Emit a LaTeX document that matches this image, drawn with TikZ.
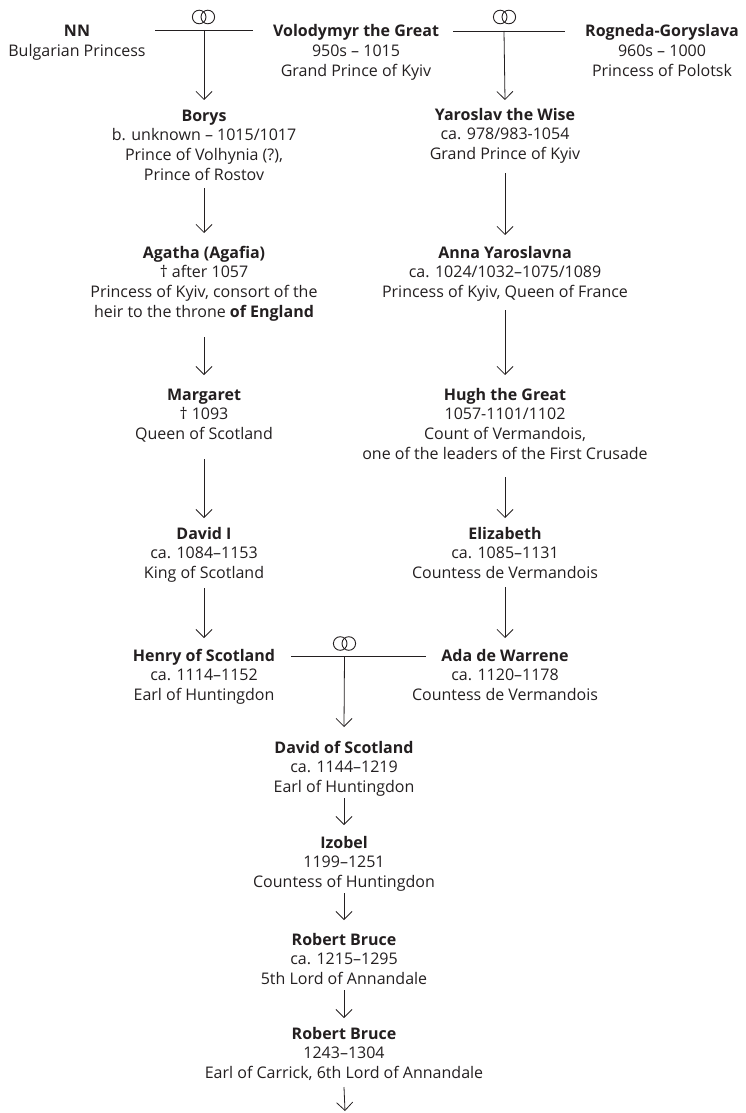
\documentclass[tikz,border=0pt]{standalone}
\usepackage{fontspec}
\setmainfont{Open Sans}
\usetikzlibrary{arrows.meta}
\definecolor{ink}{HTML}{231F20}
\tikzset{
  person/.style={align=center, inner sep=0pt, anchor=base, text=ink,
    font=\fontsize{16}{19.8}\selectfont},
  link/.style={draw=ink, line width=0.8pt},
  arr/.style={draw=ink, line width=0.8pt, -{Straight Barb[length=8pt,width=16pt]}},
  ringsym/.style={draw=ink, line width=0.9pt}
}
\newcommand{\rings}[2]{%
  \draw[ringsym] (#1-4.3,#2) circle[radius=6.8pt];
  \draw[ringsym] (#1+4.3,#2) circle[radius=6.8pt];}
\begin{document}
\begin{tikzpicture}[x=1pt,y=-1pt]
\useasboundingbox (0,0) rectangle (746,1113);
% people (anchor = baseline of the last line)
\node[person] (nn) at (77,56.8) {\textbf{NN}\\Bulgarian Princess};
\node[person] (volod) at (356,76.6) {\textbf{Volodymyr the Great}\\950s – 1015\\Grand Prince of Kyiv};
\node[person] (rogn) at (662,76.6) {\textbf{Rogneda-Goryslava}\\960s – 1000\\Princess of Polotsk};
\node[person] (borys) at (204,180.4) {\textbf{Borys}\\b. unknown – 1015/1017\\Prince of Volhynia (?),\\Prince of Rostov};
\node[person] (yaro) at (505,159.6) {\textbf{Yaroslav the Wise}\\ca. 978/983-1054\\Grand Prince of Kyiv};
\node[person] (agatha) at (204,317.4) {\textbf{Agatha (Agafia)}\\† after 1057\\Princess of Kyiv, consort of the\\heir to the throne \textbf{of England}};
\node[person] (anna) at (505,297.6) {\textbf{Anna Yaroslavna}\\ca. 1024/1032–1075/1089\\Princess of Kyiv, Queen of France};
\node[person] (marg) at (204,439.6) {\textbf{Margaret}\\† 1093\\Queen of Scotland};
\node[person] (hugh) at (505,459.4) {\textbf{Hugh the Great}\\1057-1101/1102\\Count of Vermandois,\\one of the leaders of the First Crusade};
\node[person] (david) at (204,578.6) {\textbf{David I}\\ca. 1084–1153\\King of Scotland};
\node[person] (eliz) at (505,578.6) {\textbf{Elizabeth}\\ca. 1085–1131\\Countess de Vermandois};
\node[person] (henry) at (204,700.6) {\textbf{Henry of Scotland}\\ca. 1114–1152\\Earl of Huntingdon};
\node[person] (ada) at (505,700.6) {\textbf{Ada de Warrene}\\ca. 1120–1178\\Countess de Vermandois};
\node[person] (davids) at (344,792.6) {\textbf{David of Scotland}\\ca. 1144–1219\\Earl of Huntingdon};
\node[person] (izobel) at (344,887.6) {\textbf{Izobel}\\1199–1251\\Countess of Huntingdon};
\node[person] (rb1) at (344,984.6) {\textbf{Robert Bruce}\\ca. 1215–1295\\5th Lord of Annandale};
\node[person] (rb2) at (344,1078.6) {\textbf{Robert Bruce}\\1243–1304\\Earl of Carrick, 6th Lord of Annandale};
% marriages
\coordinate (mAl) at (155,30); \coordinate (mAr) at (253,30); \coordinate (mA) at (204,30);
\coordinate (mBl) at (453,31); \coordinate (mBr) at (565,31); \coordinate (mB) at (504,31);
\coordinate (mCl) at (291,656); \coordinate (mCr) at (426,656); \coordinate (mC) at (344.5,656);
\coordinate (out) at (345,1111);
\draw[link] (mAl) -- (mAr);
\draw[link] (mBl) -- (mBr);
\draw[link] (mCl) -- (mCr);
\rings{203.5}{17}
\rings{504.5}{17}
\rings{344.5}{643.5}
% descent
\draw[arr] (mA) -- (borys.base |- 0,100);
\draw[arr] (mB) -- (yaro.base |- 0,100);
\draw[arr] (borys.base |- 0,188) -- (agatha.base |- 0,233);
\draw[arr] (agatha.base |- 0,337) -- (marg.base |- 0,375);
\draw[arr] (marg.base |- 0,459) -- (david.base |- 0,518);
\draw[arr] (david.base |- 0,588) -- (henry.base |- 0,638);
\draw[arr] (yaro.base |- 0,173) -- (anna.base |- 0,235);
\draw[arr] (anna.base |- 0,310) -- (hugh.base |- 0,375);
\draw[arr] (hugh.base |- 0,477) -- (eliz.base |- 0,518);
\draw[arr] (eliz.base |- 0,587) -- (ada.base |- 0,638);
\draw[arr] (mC) -- (davids.base |- 0,727);
\draw[arr] (davids.base |- 0,798) -- (izobel.base |- 0,825);
\draw[arr] (izobel.base |- 0,893) -- (rb1.base |- 0,920);
\draw[arr] (rb1.base |- 0,990) -- (rb2.base |- 0,1018);
\draw[arr] (rb2.base |- 0,1087) -- (out);
\end{tikzpicture}
\end{document}
